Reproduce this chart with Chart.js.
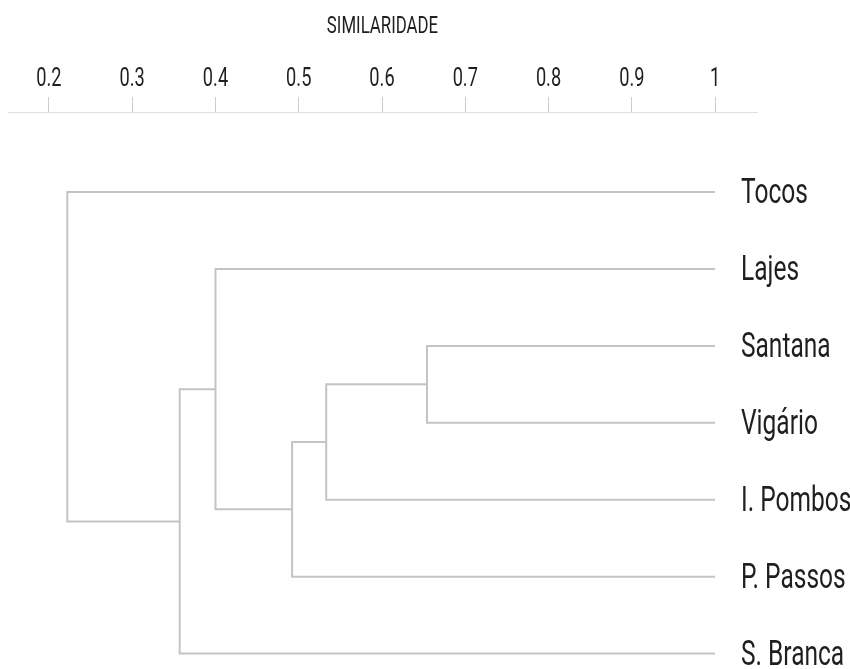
<!DOCTYPE html>
<html>
<head>
<meta charset="utf-8">
<script src="https://cdn.jsdelivr.net/npm/chart.js@4/dist/chart.umd.min.js"></script>
<style>
    body { margin: 0; background: #fff; }
    #wrap { width: 850px; height: 669px; }
</style>
</head>
<body>
<div id="wrap"><canvas id="dendro" width="850" height="669"></canvas></div>
<script>
// folhas (ordem de cima para baixo)
const leaves = ['Tocos', 'Lajes', 'Santana', 'Vigário', 'I. Pombos', 'P. Passos', 'S. Branca'];

// fusões: nó esquerdo, nó direito, similaridade (nós 0-6 = folhas, 7+ = fusões)
const mergeLeft  = [2, 7, 8, 1, 10, 0];
const mergeRight = [3, 4, 5, 9, 6, 11];
const mergeSim   = [0.654, 0.533, 0.492, 0.40, 0.357, 0.222];

const tickValues = [0.2, 0.3, 0.4, 0.5, 0.6, 0.7, 0.8, 0.9, 1];
const tickLabels = ['0.2', '0.3', '0.4', '0.5', '0.6', '0.7', '0.8', '0.9', '1'];
const axisTitle = 'SIMILARIDADE';

const FONT = "Roboto, 'Liberation Sans', sans-serif";
const TEXT = '#1f1f1f';
const LINE = '#c4c4c4';
const SQUEEZE = 0.7; // o original usa fonte condensada

// posição de cada nó: y = índice médio, x = similaridade
function buildSegments() {
    const nodeY = leaves.map((_, i) => i);
    const nodeX = leaves.map(() => 1);
    const sets = [];
    for (let i = 0; i < mergeSim.length; i++) {
        const a = mergeLeft[i], b = mergeRight[i], h = mergeSim[i];
        sets.push({
            data: [
                { x: nodeX[a], y: nodeY[a] },
                { x: h, y: nodeY[a] },
                { x: h, y: nodeY[b] },
                { x: nodeX[b], y: nodeY[b] }
            ],
            showLine: true,
            borderColor: LINE,
            borderWidth: 2,
            pointRadius: 0,
            fill: false,
            tension: 0
        });
        nodeY.push((nodeY[a] + nodeY[b]) / 2);
        nodeX.push(h);
    }
    return sets;
}

// texto condensado horizontalmente
function drawCondensed(ctx, text, px, py, size, align) {
    ctx.save();
    ctx.font = size + 'px ' + FONT;
    ctx.fillStyle = TEXT;
    ctx.textAlign = align;
    ctx.textBaseline = 'alphabetic';
    ctx.translate(px, py);
    ctx.scale(SQUEEZE, 1);
    ctx.fillText(text, 0, 0);
    ctx.restore();
}

// rótulos do eixo, título e nomes das folhas
const labelsPlugin = {
    id: 'condensedLabels',
    afterDraw(chart) {
        const ctx = chart.ctx;
        const xs = chart.scales.x;
        const ys = chart.scales.y;
        const area = chart.chartArea;

        drawCondensed(ctx, axisTitle, (area.left + area.right) / 2, 33, 24, 'center');

        tickValues.forEach((v, i) => {
            drawCondensed(ctx, tickLabels[i], xs.getPixelForValue(v), 86, 26, 'center');
        });

        leaves.forEach((name, i) => {
            drawCondensed(ctx, name, area.right - 16, ys.getPixelForValue(i) + 11, 35, 'left');
        });
    }
};

function createChart() {
    const ctx = document.getElementById('dendro').getContext('2d');
    new Chart(ctx, {
        type: 'scatter',
        data: { datasets: buildSegments() },
        plugins: [labelsPlugin],
        options: {
            responsive: false,
            animation: false,
            layout: { padding: { left: 8, top: 0, right: 93, bottom: 0 } },
            plugins: {
                legend: { display: false },
                tooltip: { enabled: false }
            },
            scales: {
                x: {
                    type: 'linear',
                    position: 'top',
                    min: 0.1508,
                    max: 1.0504,
                    afterBuildTicks: (scale) => {
                        scale.ticks = tickValues.map(v => ({ value: v }));
                    },
                    afterFit: (scale) => { scale.height = 112; },
                    ticks: { display: false },
                    grid: {
                        drawOnChartArea: false,
                        drawTicks: true,
                        tickLength: 15,
                        color: '#cccccc'
                    },
                    border: { display: true, color: '#d6e2ea', width: 1 }
                },
                y: {
                    type: 'linear',
                    display: false,
                    reverse: true,
                    min: -1.04,
                    max: 6.2
                }
            }
        }
    });
}

document.addEventListener('DOMContentLoaded', createChart);
</script>
</body>
</html>
